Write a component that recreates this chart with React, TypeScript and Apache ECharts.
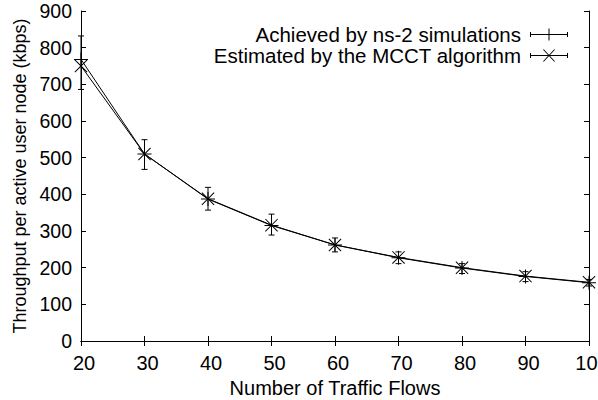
import React, { useEffect, useRef } from "react";
import * as echarts from "echarts";

const flows = [20, 30, 40, 50, 60, 70, 80, 90, 100];
const achieved = [768, 510, 387, 315, 262, 227, 199, 176, 159];
const achievedLow = [686, 468, 357, 289, 243, 211, 184, 162, 150];
const achievedHigh = [832, 549, 419, 346, 281, 243, 211, 189, 168];
const estimated = [750, 510, 388, 316, 262, 228, 200, 177, 160];
const seriesNames = ["Achieved by ns-2 simulations", "Estimated by the MCCT algorithm"];

const FONT = "'Liberation Sans', Arial, sans-serif";

const plusSymbol = "path://M9.3,0H10.7V20H9.3ZM0,9.3H20V10.7H0Z";
const crossSymbol = "path://M0,1.1L1.1,0L20,18.9L18.9,20ZM18.9,0L20,1.1L1.1,20L0,18.9Z";
const legendPlus = "path://M0,5.5H38V6.5H0ZM0,3.5H1V8.5H0ZM37,3.5H38V8.5H37ZM18.5,0H19.5V12H18.5Z";
const legendCross = "path://M0,5.5H38V6.5H0ZM0,3.5H1V8.5H0ZM37,3.5H38V8.5H37ZM12.8,0L14,0L25.2,12L24,12ZM24,0L25.2,0L14,12L12.8,12Z";

export default function App() {
  const ref = useRef<HTMLDivElement>(null);
  useEffect(() => {
    if (!ref.current) return;
    const chart = echarts.init(ref.current, null, { renderer: "svg" });
    const errData = flows.map((f, i) => [f, achievedLow[i], achievedHigh[i]]);
    const axisCommon = {
      axisLine: { lineStyle: { color: "#000", width: 1 } },
      axisTick: { inside: true, length: 5, lineStyle: { color: "#000" } },
      splitLine: { show: false },
    };
    chart.setOption({
      animation: false,
      backgroundColor: "#fff",
      textStyle: { fontFamily: FONT },
      grid: { left: 81, right: 9, top: 11, bottom: 59, containLabel: false, outerBoundsMode: "none" },
      legend: {
        orient: "vertical",
        right: 25,
        top: 19,
        align: "right",
        itemWidth: 38,
        itemHeight: 12,
        itemGap: 0,
        selectedMode: false,
        textStyle: { fontFamily: FONT, fontSize: 20.5, color: "#000", lineHeight: 19, padding: [0, 4, 0, 0] },
        data: [
          { name: seriesNames[0], icon: legendPlus },
          { name: seriesNames[1], icon: legendCross },
        ],
      },
      xAxis: [
        {
          type: "value",
          min: 20,
          max: 100,
          interval: 10,
          name: "Number of Traffic Flows",
          nameLocation: "middle",
          nameGap: 34,
          nameTextStyle: { fontFamily: FONT, fontSize: 20, color: "#000" },
          axisLabel: { fontFamily: FONT, fontSize: 20, color: "#000", margin: 12, padding: [0, 0, 0, 6] },
          ...axisCommon,
        },
        {
          type: "value",
          position: "top",
          min: 20,
          max: 100,
          interval: 10,
          axisLabel: { show: false },
          ...axisCommon,
        },
      ],
      yAxis: [
        {
          type: "value",
          min: 0,
          max: 900,
          interval: 100,
          name: "Throughput per active user node (kbps)",
          nameLocation: "middle",
          nameGap: 52,
          nameTextStyle: { fontFamily: FONT, fontSize: 18, color: "#000" },
          axisLabel: { fontFamily: FONT, fontSize: 19.5, color: "#000", margin: 9 },
          ...axisCommon,
        },
        {
          type: "value",
          position: "right",
          min: 0,
          max: 900,
          interval: 100,
          axisLabel: { show: false },
          ...axisCommon,
        },
      ],
      series: [
        {
          name: seriesNames[0],
          type: "line",
          data: flows.map((f, i) => [f, achieved[i]]),
          symbol: plusSymbol,
          symbolSize: 14,
          clip: false,
          lineStyle: { color: "#000", width: 1 },
          itemStyle: { color: "#000" },
          z: 3,
        },
        {
          name: "errorbars",
          type: "custom",
          data: errData,
          encode: { x: 0, y: [1, 2] },
          clip: false,
          z: 3,
          renderItem: (params: any, api: any) => {
            const x = api.value(0);
            const lo = api.coord([x, api.value(1)]);
            const hi = api.coord([x, api.value(2)]);
            const w = 3;
            const style = { stroke: "#000", lineWidth: 1, fill: "none" };
            return {
              type: "group",
              children: [
                { type: "line", shape: { x1: lo[0], y1: lo[1], x2: hi[0], y2: hi[1] }, style },
                { type: "line", shape: { x1: lo[0] - w, y1: lo[1], x2: lo[0] + w, y2: lo[1] }, style },
                { type: "line", shape: { x1: hi[0] - w, y1: hi[1], x2: hi[0] + w, y2: hi[1] }, style },
              ],
            };
          },
        },
        {
          name: seriesNames[1],
          type: "line",
          data: flows.map((f, i) => [f, estimated[i]]),
          symbol: crossSymbol,
          symbolSize: 13,
          clip: false,
          lineStyle: { color: "#000", width: 1 },
          itemStyle: { color: "#000" },
          z: 3,
        },
      ],
    });
    return () => chart.dispose();
  }, []);
  return <div ref={ref} style={{ width: 598, height: 400, position: "absolute", left: 0, top: 0 }} />;
}
